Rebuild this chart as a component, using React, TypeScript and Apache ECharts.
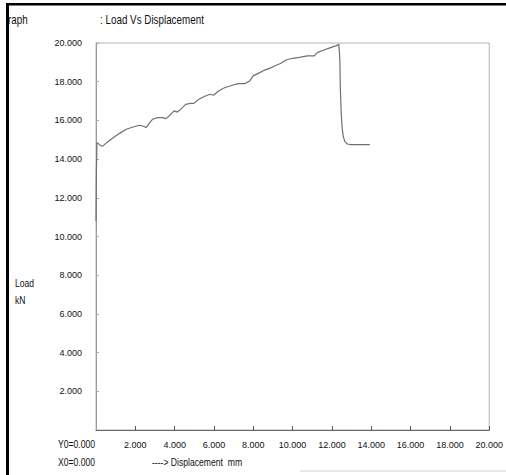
import React, { useEffect, useRef } from "react";
import * as echarts from "echarts";

const displacement = [
  0, 0.02, 0.05, 0.12, 0.22, 0.33, 0.54, 0.87, 1.2, 1.54, 1.88, 2.21, 2.38, 2.55,
  2.71, 2.88, 3.13, 3.38, 3.55, 3.72, 3.97, 4.14, 4.31, 4.56, 4.81, 4.98, 5.23,
  5.56, 5.81, 5.98, 6.23, 6.48, 6.73, 6.98, 7.24, 7.57, 7.82, 7.99, 8.33, 8.58,
  8.83, 9.08, 9.41, 9.66, 10.0, 10.34, 10.75, 11.09, 11.26, 11.59, 11.93, 12.2,
  12.35, 12.4, 12.43, 12.47, 12.52, 12.58, 12.66, 12.78, 12.95, 13.93,
];
const load = [
  10.8, 13.4, 14.85, 14.8, 14.72, 14.66, 14.85, 15.1, 15.33, 15.54, 15.66, 15.75,
  15.71, 15.63, 15.85, 16.06, 16.14, 16.14, 16.09, 16.23, 16.49, 16.43, 16.57,
  16.83, 16.88, 16.88, 17.09, 17.26, 17.35, 17.3, 17.52, 17.66, 17.75, 17.83,
  17.9, 17.9, 18.04, 18.3, 18.47, 18.6, 18.69, 18.81, 18.95, 19.12, 19.21, 19.26,
  19.33, 19.33, 19.5, 19.64, 19.76, 19.85, 19.93, 19.2, 17.6, 16.4, 15.6, 15.15,
  14.9, 14.78, 14.75, 14.75,
];
const xTicks = { min: 0, max: 20, interval: 2 };
const yTicks = { min: 0, max: 20, interval: 2 };

const titleText = ": Load Vs Displacement";
const clippedTitle = "raph";
const yName = ["Load", "kN"];
const xName = "----> Displacement  mm";
const originY = "Y0=0.000";
const originX = "X0=0.000";

const FONT = "'Liberation Sans', Arial, sans-serif";

export default function App() {
  const ref = useRef<HTMLDivElement>(null);
  useEffect(() => {
    if (!ref.current) return;
    const chart = echarts.init(ref.current, null, { renderer: "svg" });
    const txt = (x: number, y: number, text: string, size = 10.5) => ({
      type: "text",
      x,
      y,
      scaleX: 0.82,
      style: { text, fill: "#111", font: `${size}px ${FONT}`, textVerticalAlign: "middle" },
    });
    chart.setOption({
      animation: false,
      backgroundColor: "#fff",
      grid: {
        left: 96,
        right: 12,
        top: 43,
        bottom: 45,
        show: true,
        borderColor: "#b5b5b5",
        borderWidth: 1,
      },
      xAxis: {
        type: "value",
        min: xTicks.min,
        max: xTicks.max,
        interval: xTicks.interval,
        axisLine: { show: true, lineStyle: { color: "#666", width: 1 } },
        axisTick: { show: true, inside: true, length: 4, lineStyle: { color: "#555" } },
        splitLine: { show: false },
        axisLabel: {
          color: "#111",
          fontFamily: FONT,
          fontSize: 9,
          margin: 10,
          showMinLabel: false,
          formatter: (v: number) => v.toFixed(3),
        },
      },
      yAxis: {
        type: "value",
        min: yTicks.min,
        max: yTicks.max,
        interval: yTicks.interval,
        axisLine: { show: true, lineStyle: { color: "#999", width: 1 } },
        axisTick: { show: true, inside: true, length: 3, lineStyle: { color: "#aaa" } },
        splitLine: { show: false },
        axisLabel: {
          color: "#111",
          fontFamily: FONT,
          fontSize: 9,
          margin: 14,
          showMinLabel: false,
          formatter: (v: number) => v.toFixed(3),
        },
      },
      series: [
        {
          type: "line",
          data: displacement.map((d, i) => [d, load[i]]),
          showSymbol: false,
          smooth: false,
          lineStyle: { color: "#707070", width: 1.2 },
        },
      ],
      graphic: [
        { type: "rect", shape: { x: 6, y: 3, width: 500, height: 2.5 }, style: { fill: "#000" } },
        { type: "rect", shape: { x: 6, y: 3, width: 3, height: 472 }, style: { fill: "#000" } },
        { type: "line", shape: { x1: 300, y1: 471, x2: 506, y2: 471 }, style: { stroke: "#d0d0d0", lineWidth: 1 } },
        txt(8, 20, clippedTitle, 12),
        txt(100, 20, titleText, 12),
        txt(15, 283, yName[0]),
        txt(15, 300, yName[1]),
        txt(58, 444, originY),
        txt(58, 462, originX),
        txt(152, 462, xName),
      ],
    });
    return () => chart.dispose();
  }, []);
  return (
    <div
      ref={ref}
      style={{ position: "fixed", left: 0, top: 0, width: 506, height: 475, background: "#fff" }}
    />
  );
}
